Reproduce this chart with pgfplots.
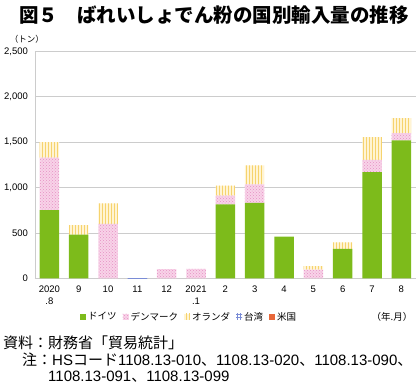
\documentclass[border=0pt]{standalone}
\usepackage{fontspec}
\setmainfont{Liberation Sans}
\newfontfamily\cjk{Noto Sans CJK JP}
\usepackage{pgfplots}
\pgfplotsset{compat=1.18}
\usetikzlibrary{patterns}
\definecolor{deGreen}{HTML}{7DBB1B}
\definecolor{dkFill}{HTML}{F8D3E8}
\definecolor{dkDot}{HTML}{E690C4}
\definecolor{nlFill}{HTML}{FFF4D4}
\definecolor{nlLine}{HTML}{F6D36E}
\definecolor{twLine}{HTML}{7A8CD6}
\definecolor{usFill}{HTML}{E8683A}
\definecolor{gridc}{HTML}{CCCCCC}
\pgfplotsset{mylegend/.style={legend image code/.code={\path[##1] (0pt,-3pt) rectangle (6pt,3pt);}}}
\begin{document}
\begin{tikzpicture}[x=1pt,y=1pt]
\useasboundingbox (-35pt,-107.7pt) rectangle (385pt,278.3pt);
\begin{axis}[
  at={(0pt,0pt)}, anchor=south west,
  scale only axis, width=381pt, height=227pt,
  ybar stacked, bar width=19.5pt,
  xmin=-0.49, xmax=12.5, ymin=0, ymax=2500,
  ytick={0,500,1000,1500,2000,2500},
  xtick={0,...,12},
  xticklabels={{2020\\.8},9,10,11,12,{2021\\.1},2,3,4,5,6,7,8},
  xticklabel style={align=center, font=\fontsize{9.5}{12.3}\selectfont, yshift=-4pt},
  yticklabel style={font=\fontsize{9.5}{11}\selectfont, xshift=-3.5pt},
  /pgf/number format/assume math mode=true,
  /pgf/number format/1000 sep={,},
  scaled y ticks=false,
  axis lines=left,
  axis line style={-, gridc, line width=0.8pt},
  major tick length=0pt,
  ymajorgrids, grid style={gridc, line width=0.8pt},
  legend columns=5,
  legend style={draw=none, fill=none, at={(0.118,-0.170)}, anchor=west,
    font=\fontsize{9.5}{11}\selectfont\cjk,
    /tikz/every even column/.append style={column sep=4pt},
    inner sep=0pt},
  legend cell align=left,
]
\addplot[fill=deGreen, draw=none, mylegend] coordinates {
 (0,750) (1,480) (2,0) (3,0) (4,0) (5,0) (6,815) (7,830) (8,460) (9,0) (10,325) (11,1170) (12,1520)};
\addplot[fill=dkFill, draw=none, postaction={pattern=crosshatch dots, pattern color=dkDot}, mylegend] coordinates {
 (0,580) (1,0) (2,600) (3,0) (4,100) (5,105) (6,95) (7,205) (8,0) (9,95) (10,0) (11,135) (12,80)};
\addplot[fill=nlFill, draw=none, postaction={pattern=vertical lines, pattern color=nlLine}, mylegend] coordinates {
 (0,170) (1,105) (2,225) (3,0) (4,0) (5,0) (6,110) (7,210) (8,0) (9,40) (10,70) (11,250) (12,165)};
\addplot[fill=white, draw=none, postaction={pattern=grid, pattern color=twLine}, mylegend] coordinates {
 (0,0) (1,0) (2,0) (3,3) (4,0) (5,0) (6,0) (7,0) (8,0) (9,0) (10,0) (11,0) (12,0)};
\addplot[fill=usFill, draw=none, mylegend] coordinates {
 (0,0) (1,0) (2,0) (3,0) (4,0) (5,0) (6,0) (7,0) (8,0) (9,0) (10,0) (11,0) (12,0)};
\legend{ドイツ,デンマーク,オランダ,台湾,米国}
\end{axis}
\node[font=\fontsize{19.5}{22}\selectfont\cjk\bfseries] at (179pt,263.3pt) {図５　ばれいしょでん粉の国別輸入量の推移};
\node[font=\fontsize{8.5}{10}\selectfont\cjk] at (-8pt,239pt) {（トン）};
\node[font=\fontsize{9.5}{11}\selectfont\cjk] at (357pt,-38.7pt) {（年.月）};
\node[font=\fontsize{15}{18}\selectfont, anchor=west, inner sep=0pt] at (-32pt,-64.7pt) {\cjk 資料：財務省「貿易統計」};
\node[font=\fontsize{15}{18}\selectfont, anchor=west, inner sep=0pt] at (-13pt,-81.7pt) {{\cjk 注：}HS{\cjk コード}1108.13-010{\cjk 、}1108.13-020{\cjk 、}1108.13-090{\cjk 、}};
\node[font=\fontsize{15}{18}\selectfont, anchor=west, inner sep=0pt] at (13pt,-98.7pt) {1108.13-091{\cjk 、}1108.13-099};
\end{tikzpicture}
\end{document}
